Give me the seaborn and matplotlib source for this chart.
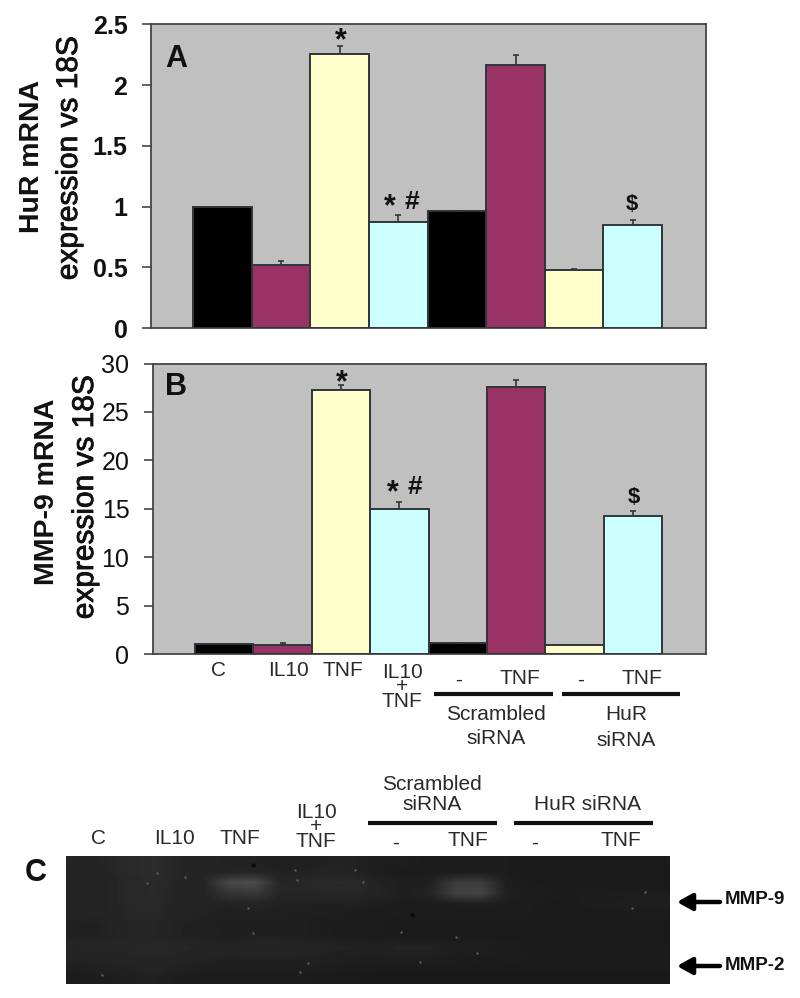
import matplotlib
matplotlib.use("Agg")
import matplotlib.pyplot as plt
import matplotlib.patheffects as pe
import numpy as np
import pandas as pd
import seaborn as sns

lanes = ["C", "IL10", "TNF", "IL10+TNF", "Scr -", "Scr TNF", "HuR -", "HuR TNF"]
bar_colors = ["#000000", "#993366", "#FFFFCC", "#CCFFFF", "#000000", "#993366", "#FFFFCC", "#CCFFFF"]

hur_values = [1.0, 0.52, 2.26, 0.877, 0.965, 2.17, 0.48, 0.845]
hur_err = [0.0, 0.036, 0.065, 0.055, 0.0, 0.078, 0.01, 0.043]
hur_ticks = [0, 0.5, 1, 1.5, 2, 2.5]
hur_ticklabels = ["0", "0.5", "1", "1.5", "2", "2.5"]

mmp_values = [1.0, 0.96, 27.3, 15.0, 1.13, 27.55, 0.96, 14.2]
mmp_err = [0.0, 0.14, 0.46, 0.7, 0.0, 0.73, 0.0, 0.6]
mmp_ticks = [0, 5, 10, 15, 20, 25, 30]

# zymogram brightness, read by eye (rows top to bottom, columns left to right)
gel = [
    [36, 38, 42, 44, 38, 36, 34, 34, 32, 32, 34, 34, 30, 30, 28, 28, 28, 28, 26, 26, 26, 26, 26, 27],
    [35, 36, 42, 44, 38, 36, 36, 36, 34, 34, 36, 34, 30, 28, 28, 28, 28, 28, 26, 26, 26, 26, 26, 26],
    [35, 35, 40, 43, 37, 38, 72, 76, 38, 40, 42, 42, 34, 30, 34, 60, 62, 30, 27, 26, 26, 26, 26, 26],
    [35, 35, 40, 42, 37, 36, 52, 56, 38, 38, 40, 40, 36, 30, 36, 66, 68, 32, 29, 28, 28, 28, 29, 30],
    [35, 35, 40, 41, 36, 35, 34, 36, 34, 34, 32, 32, 30, 28, 28, 30, 31, 29, 28, 26, 28, 30, 31, 31],
    [35, 35, 39, 40, 35, 34, 33, 33, 33, 31, 31, 29, 28, 28, 28, 28, 28, 28, 28, 26, 26, 27, 28, 28],
    [33, 34, 38, 39, 34, 33, 31, 31, 31, 31, 29, 28, 28, 26, 26, 26, 26, 26, 26, 26, 26, 26, 26, 26],
    [33, 34, 38, 38, 34, 33, 31, 33, 33, 31, 29, 28, 28, 26, 26, 27, 27, 26, 26, 26, 26, 26, 26, 26],
    [38, 39, 39, 40, 39, 37, 36, 38, 38, 37, 35, 34, 33, 37, 35, 31, 31, 29, 27, 27, 27, 27, 27, 27],
    [36, 37, 37, 38, 37, 36, 34, 35, 35, 34, 33, 31, 30, 33, 31, 29, 28, 28, 28, 27, 28, 28, 28, 28],
    [31, 33, 34, 37, 33, 31, 31, 31, 31, 31, 29, 28, 28, 26, 26, 27, 26, 26, 27, 27, 27, 27, 27, 27],
    [28, 29, 31, 34, 29, 28, 28, 28, 28, 28, 26, 26, 24, 24, 24, 24, 24, 24, 24, 24, 24, 24, 24, 24],
]
speck_x = [295, 297, 355, 363, 185, 147, 300, 308, 102, 253, 248, 157, 632, 401, 456, 420, 645, 477]
speck_y = [870, 880, 870, 882, 877, 883, 972, 963, 975, 933, 908, 873, 908, 932, 937, 962, 892, 953]
pit_x = [253, 412]
pit_y = [865, 915]

W, H = 800, 998
sns.set_theme(style="white")
plt.rcParams["font.family"] = ["Liberation Sans", "DejaVu Sans"]
fig = plt.figure(figsize=(W / 100, H / 100), dpi=100, facecolor="white")


def axes_px(left, top, right, bottom, **kw):
    return fig.add_axes([left / W, 1 - bottom / H, (right - left) / W, (bottom - top) / H], **kw)


def panel(ax, values, errs, ticks, labels, ymax, weight):
    df = pd.DataFrame({"lane": lanes, "value": values})
    sns.barplot(data=df, x="lane", y="value", hue="lane", palette=bar_colors, dodge=False, saturation=1,
                width=1.0, legend=False, errorbar=None, edgecolor="#30363a", linewidth=1.4, ax=ax, zorder=3)
    ax.errorbar(range(len(values)), values, yerr=[np.zeros(len(errs)), errs], fmt="none",
                ecolor="#30363a", elinewidth=1.2, capsize=2.2, capthick=1.2, zorder=2)
    ax.set_facecolor("#C0C0C0")
    ax.set_xlim(-1.22, 8.25)
    ax.set_ylim(0, ymax)
    ax.set_xlabel("")
    ax.set_ylabel("")
    ax.set_xticks([])
    ax.set_yticks(ticks)
    ax.set_yticklabels(labels, fontsize=18, fontweight=weight, color="#111111")
    ax.tick_params(axis="y", left=True, length=6.5, width=1.2, color="#444444", pad=10.5)
    for s in ax.spines.values():
        s.set_visible(True)
        s.set_color("#444444")
        s.set_linewidth(1.3)


axA = axes_px(151, 24.5, 706, 328)
panel(axA, hur_values, hur_err, hur_ticks, hur_ticklabels, 2.5, "bold")
axB = axes_px(153, 363.5, 706, 654)
panel(axB, mmp_values, mmp_err, mmp_ticks, [str(t) for t in mmp_ticks], 30, "normal")

axG = axes_px(65.5, 856, 669, 984)
axG.imshow(np.array(gel), cmap="gray", vmin=0, vmax=255, aspect="auto", interpolation="bilinear")
axG.set_axis_off()

ov = fig.add_axes([0, 0, 1, 1], zorder=10)
ov.set_xlim(0, W)
ov.set_ylim(H, 0)
ov.set_axis_off()
ov.scatter(speck_x, speck_y, s=3, color="#5c5c5c", linewidths=0)
ov.scatter(pit_x, pit_y, s=9, color="#0a0a0a", linewidths=0)


def t(x, y, s, size=15, weight="normal", color="#2a2a2a", **kw):
    return ov.text(x, y, s, fontsize=size, fontweight=weight, color=color, ha="center", va="center", **kw)


# y axis titles
heavy = [pe.withStroke(linewidth=0.6, foreground="#111111")]
t(32, 156, "HuR mRNA", 20.5, "bold", "#111111", rotation=90)
t(69, 158, "expression vs 18S", 21.5, "normal", "#111111", rotation=90, path_effects=heavy)
t(47, 492, "MMP-9 mRNA", 20.5, "bold", "#111111", rotation=90)
t(85, 497, "expression vs 18S", 21.5, "normal", "#111111", rotation=90, path_effects=heavy)

# panel letters
t(176, 59, "A", 22, "bold", "#111111")
t(176, 387, "B", 22, "bold", "#111111")
t(36, 873, "C", 22, "bold", "#111111")

# significance marks
for x, y, s, size in [(341, 41, "*", 22), (390, 207, "*", 22), (412, 202, "#", 19), (632, 204, "$", 16),
                      (342, 383, "*", 22), (393, 493, "*", 22), (415, 487, "#", 19), (634, 497, "$", 16)]:
    t(x, y, s, size, "bold", "#111111")

# lane labels under panel B
for x, y, s in [(219, 670, "C"), (289, 670, "IL10"), (343, 670, "TNF"), (459, 680, "-"), (520, 678, "TNF"),
                (581, 680, "-"), (642, 678, "TNF"), (496, 714, "Scrambled"), (496, 739, "siRNA"),
                (626, 715, "HuR"), (626, 740, "siRNA")]:
    t(x, y, s)
t(402, 687, "IL10\n+\nTNF", linespacing=0.72)
ov.plot([434, 553], [694, 694], color="#111111", lw=3, solid_capstyle="butt")
ov.plot([562, 680], [694, 694], color="#111111", lw=3, solid_capstyle="butt")

# lane labels above the gel
for x, y, s in [(98, 838, "C"), (174, 838, "IL10"), (240, 838, "TNF"), (396, 843, "-"), (468, 841, "TNF"),
                (535, 843, "-"), (621, 841, "TNF"), (432, 785, "Scrambled"), (432, 804, "siRNA"),
                (588, 805, "HuR siRNA")]:
    t(x, y, s)
t(316, 827, "IL10\n+\nTNF", linespacing=0.72)
ov.plot([368, 497], [823, 823], color="#111111", lw=3, solid_capstyle="butt")
ov.plot([514, 653], [823, 823], color="#111111", lw=3, solid_capstyle="butt")

# band arrows
for y_arrow, y_text, s in [(902, 900, "MMP-9"), (966, 965, "MMP-2")]:
    ov.annotate("", xy=(677, y_arrow), xytext=(720, y_arrow),
                arrowprops=dict(arrowstyle="-|>,head_length=0.75,head_width=0.42", color="black", lw=3.2,
                                shrinkA=0, shrinkB=0))
    ov.text(725, y_text, s, fontsize=13.5, fontweight="bold", color="#111111", ha="left", va="center")

fig.savefig("out.png", dpi=100, facecolor="white")
